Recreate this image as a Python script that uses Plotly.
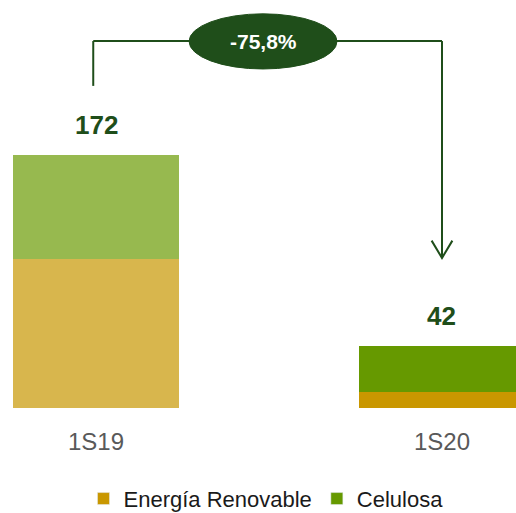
import plotly.graph_objects as go

categories = ["1S19", "1S20"]
energia = [101, 11]
celulosa = [71, 31]
totals = [172, 42]
change_label = "-75,8%"

FONT = "Liberation Sans, Arial, sans-serif"
DARK = "#1F4E1A"
OR_L, OR_D = "#D8B64D", "#C99700"
GR_L, GR_D = "#97B94F", "#669900"

fig = go.Figure()
fig.add_trace(go.Bar(x=categories, y=energia, name="Energía Renovable",
                     marker=dict(color=[OR_L, OR_D], line=dict(width=0)),
                     width=0.48, showlegend=False, hoverinfo="skip"))
fig.add_trace(go.Bar(x=categories, y=celulosa, name="Celulosa",
                     marker=dict(color=[GR_L, GR_D], line=dict(width=0)),
                     width=0.48, showlegend=False, hoverinfo="skip"))
# legend entries
fig.add_trace(go.Bar(x=[None], y=[None], name="Energía Renovable", marker_color=OR_D))
fig.add_trace(go.Bar(x=[None], y=[None], name="Celulosa", marker_color=GR_D))

for c, t in zip(categories, totals):
    fig.add_annotation(x=c, y=t, text=f"<b>{t}</b>", showarrow=False,
                       yanchor="bottom", yshift=13,
                       font=dict(family=FONT, size=26, color=DARK))

top = totals[0] + 77.5
left_bot = totals[0] + 47
tip = totals[1] + 60
line = dict(color=DARK, width=2)
fig.add_shape(type="line", x0=-0.008, x1=-0.008, y0=left_bot, y1=top, line=line)
fig.add_shape(type="line", x0=-0.008, x1=1, y0=top, y1=top, line=line)
fig.add_shape(type="line", x0=1, x1=1, y0=top, y1=tip, line=line)
fig.add_shape(type="path", path=f"M 0.97 {tip+11.8} L 1 {tip} L 1.03 {tip+11.8}",
              line=line)
fig.add_shape(type="circle", x0=0.269, x1=0.6965, y0=top - 19, y1=top + 18.5,
              fillcolor=DARK, line=dict(color=DARK, width=1))
fig.add_annotation(x=0.483, y=top, text=f"<b>{change_label}</b>", showarrow=False,
                   font=dict(family=FONT, size=21, color="white"))

fig.update_layout(
    width=516, height=513,
    margin=dict(l=0, r=0, t=0, b=105, autoexpand=False),
    barmode="stack",
    plot_bgcolor="white", paper_bgcolor="white",
    xaxis=dict(range=[-0.2775, 1.2139], showgrid=False, zeroline=False,
               showline=False, ticks="", ticklabelstandoff=17,
               tickfont=dict(family=FONT, size=24, color="#595959")),
    yaxis=dict(range=[0, 277.4], visible=False),
    legend=dict(orientation="h", x=0.5155, xanchor="center", y=-0.171, yanchor="top",
                traceorder="normal",
                font=dict(family=FONT, size=22, color="#1a1a1a")),
    showlegend=True,
)
fig.write_html("out.html", config={"displayModeBar": False},
               post_script="document.body.style.margin='0';")
